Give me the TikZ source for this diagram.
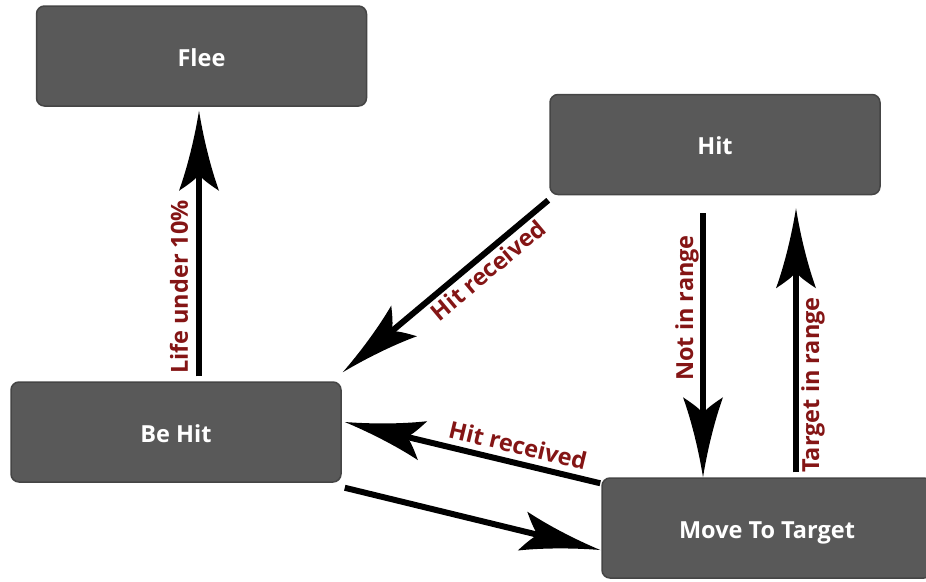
\documentclass[tikz,border=0pt]{standalone}
\usepackage{fontspec}
\setmainfont{Open Sans}
\usetikzlibrary{arrows.meta}
\definecolor{boxfill}{HTML}{595959}
\definecolor{boxedge}{HTML}{454545}
\definecolor{lbl}{HTML}{841515}
\pgfdeclarearrow{
  name = Curvy,
  setup code = {
    \pgfarrowssettipend{0pt}
    \pgfarrowssetlineend{-58pt}
    \pgfarrowssetbackend{-80pt}
  },
  drawing code = {
    \pgfpathmoveto{\pgfpoint{0pt}{0pt}}
    \pgfpathcurveto{\pgfpoint{-25pt}{4pt}}{\pgfpoint{-55pt}{11pt}}{\pgfpoint{-80pt}{20pt}}
    \pgfpathcurveto{\pgfpoint{-74pt}{11pt}}{\pgfpoint{-69pt}{4pt}}{\pgfpoint{-64pt}{0pt}}
    \pgfpathcurveto{\pgfpoint{-69pt}{-4pt}}{\pgfpoint{-74pt}{-11pt}}{\pgfpoint{-80pt}{-20pt}}
    \pgfpathcurveto{\pgfpoint{-55pt}{-11pt}}{\pgfpoint{-25pt}{-4pt}}{\pgfpoint{0pt}{0pt}}
    \pgfpathclose
    \pgfusepathqfill
  }
}
\tikzset{
  state/.style={rectangle, rounded corners=8pt, fill=boxfill, draw=boxedge, line width=1.5pt,
    minimum width=330pt, minimum height=100pt, text=white, font=\fontsize{23.5}{27}\selectfont\bfseries,
    inner sep=0pt, text height=20pt, text depth=0pt},
  arr/.style={line width=6pt, -{Curvy}},
  lab/.style={text=lbl, font=\fontsize{23.5}{27}\selectfont\bfseries, inner sep=0pt}
}
\begin{document}
\begin{tikzpicture}[x=1pt, y=-1pt]
\useasboundingbox (0,0) rectangle (926,581);
\clip (0,0) rectangle (926,581);
\node[state] (flee) at (201.5,56) {Flee};
\node[state] (hit) at (715,144.5) {Hit};
\node[state] (behit) at (176,432) {Be Hit};
\node[state] (move) at (767,528) {Move To Target};
% Be Hit -> Flee
\draw[arr] ([shift={(23,-5)}]behit.north) -- ([shift={(-2.5,4)}]flee.south);
\node[lab, rotate=90] (l1) at (179,287) {Life under 10\%};
% Hit -> Be Hit
\draw[arr] ([shift={(-1,5)}]hit.south west) -- ([shift={(1,-9)}]behit.north east);
\node[lab, rotate=40] (l2) at (488,270) {Hit received};
% Hit -> Move To Target
\draw[arr] ([shift={(-12,18)}]hit.south) -- ([shift={(-64,0)}]move.north);
\node[lab, rotate=90] (l3) at (687,308) {Not in range};
% Move To Target -> Hit
\draw[arr] ([shift={(29,-5)}]move.north) -- ([shift={(81,13)}]hit.south);
\node[lab, rotate=90] (l4) at (813,385) {Target in range};
% Move To Target -> Be Hit
\draw[arr] ([shift={(-1,6)}]move.north west) -- ([shift={(3,-10)}]behit.east);
\node[lab, rotate=-13.5] (l5) at (518,445) {Hit received};
% Be Hit -> Move To Target
\draw[arr] ([shift={(3,5)}]behit.south east) -- ([shift={(-1,22)}]move.west);
\end{tikzpicture}
\end{document}
